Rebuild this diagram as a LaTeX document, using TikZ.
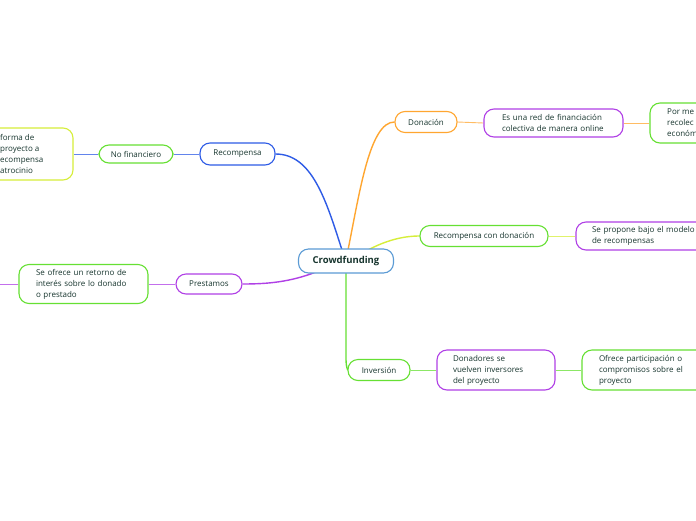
\documentclass[tikz,border=0pt]{standalone}
\usepackage{fontspec}
\setmainfont{Open Sans}
\usetikzlibrary{backgrounds}
\begin{document}
\definecolor{txt}{HTML}{17352E}
\definecolor{cblue}{HTML}{2E5BE6}
\definecolor{corange}{HTML}{FFA630}
\definecolor{cyg}{HTML}{D6EE3A}
\definecolor{cpurple}{HTML}{B040E6}
\definecolor{cgreen}{HTML}{66E033}
\definecolor{ccentral}{HTML}{5B9BD5}
\begin{tikzpicture}[x=1pt,y=-1pt,
  box/.style={draw, rounded corners=10pt, line width=1.1pt, fill=white, text=txt,
    font=\fontsize{8}{11}\selectfont, inner sep=0pt, align=left},
  plain/.style={text=txt, font=\fontsize{8}{11}\selectfont, inner sep=0pt, align=left},
  link/.style={line width=0.9pt, draw opacity=0.75},
  mainlink/.style={line width=1.4pt}]
\useasboundingbox (0,0) rectangle (696,520);
\clip (0,0) rectangle (696,520);

% nodes
\node[box, draw=ccentral, minimum width=95pt, minimum height=24pt, font=\fontsize{9.5}{11}\selectfont\bfseries] (crowd) at (346,261) {Crowdfunding};

\node[box, draw=cblue, minimum width=75pt, minimum height=22pt] (recomp) at (237.5,154) {Recompensa};
\node[box, draw=cgreen, minimum width=74pt, minimum height=18pt] (nofin) at (136,154) {No financiero};
\node[box, draw=cyg, minimum width=113pt, minimum height=52pt] (leftbox) at (16.5,154) {};
\node[plain, anchor=west] (lefttxt) at (0,154) {forma de\\ proyecto a\\ ecompensa\\ atrocinio};

\node[box, draw=cpurple, minimum width=66pt, minimum height=20pt] (prest) at (209,284) {Prestamos};
\node[box, draw=cgreen, minimum width=129pt, minimum height=39pt, text width=95pt] (ofrece) at (83.5,284) {Se ofrece un retorno de\\ interés sobre lo donado\\ o prestado};
\coordinate (pend) at (0,284);

\node[box, draw=corange, minimum width=62pt, minimum height=21pt] (don) at (426,122) {Donación};
\node[box, draw=cpurple, minimum width=139pt, minimum height=28pt, text width=103pt] (red) at (553.5,123) {Es una red de financiación\\ colectiva de manera online};
\node[box, draw=cgreen, minimum width=90pt, minimum height=40pt] (porme) at (695,123) {};
\node[plain, anchor=west] (pormetxt) at (667,123) {Por me\\ recolec\\ económ};

\node[box, draw=cgreen, minimum width=128pt, minimum height=21pt] (rcd) at (484,236) {Recompensa con donación};
\node[box, draw=cpurple, minimum width=144pt, minimum height=28pt, text width=112pt] (propone) at (648,236) {Se propone bajo el modelo\\ de recompensas};

\node[box, draw=cgreen, minimum width=62pt, minimum height=21pt] (inv) at (379,370) {Inversión};
\node[box, draw=cpurple, minimum width=118pt, minimum height=40pt, text width=86pt] (donad) at (496,370) {Donadores se\\ vuelven inversores\\ del proyecto};
\node[box, draw=cgreen, minimum width=138pt, minimum height=40pt, text width=104pt] (ofpart) at (651,370) {Ofrece participación o\\ compromisos sobre el\\ proyecto};

% connectors behind nodes
\begin{scope}[on background layer]
\fill[white] (0,0) rectangle (696,520);
\coordinate (cb) at (342,250);
\coordinate (co) at (348,250);
\coordinate (cy) at (368,250);
\coordinate (cp) at (316,272);
\coordinate (cg) at (346,272);
% blue branch
\draw[mainlink, cblue] (cb) .. controls (326,200) and (312,154) .. (recomp.east);
\draw[link, cblue] (recomp.west) -- (nofin.east);
\draw[link, cblue] (nofin.west) -- (leftbox.east);
% purple branch
\draw[mainlink, cpurple] (cp) .. controls (290,282) and (268,284) .. (prest.east);
\draw[link, cpurple] (prest.west) -- (ofrece.east);
\draw[link, cpurple] (ofrece.west) -- (pend);
% orange branch
\draw[mainlink, corange] (co) .. controls (360,190) and (370,122) .. (don.west);
\draw[link, corange] (don.east) -- (red.west);
\draw[link, corange] (red.east) -- (porme.west);
% yellow-green branch
\draw[mainlink, cyg] (cy) .. controls (385,241) and (402,236) .. (rcd.west);
\draw[link, cyg] (rcd.east) -- (propone.west);
% green branch
\draw[mainlink, cgreen] (cg) -- (346,360) .. controls (346,367) and (348,370) .. (inv.west);
\draw[link, cgreen] (inv.east) -- (donad.west);
\draw[link, cgreen] (donad.east) -- (ofpart.west);
\end{scope}
\end{tikzpicture}
\end{document}
